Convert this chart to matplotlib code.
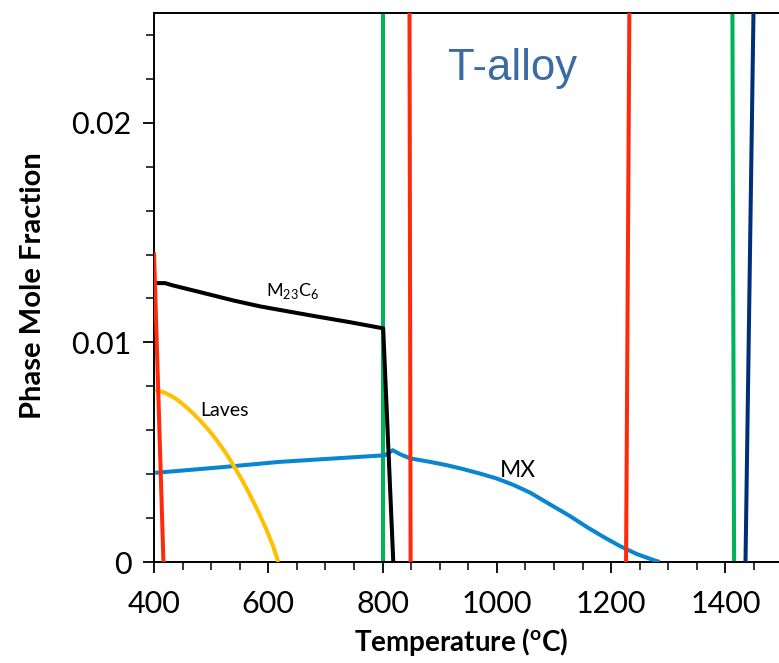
import matplotlib
matplotlib.use("Agg")
import matplotlib.pyplot as plt
from matplotlib.ticker import MultipleLocator, FixedLocator, FixedFormatter

plt.rcParams['font.family'] = ['Lato', 'DejaVu Sans']
plt.rcParams['mathtext.fontset'] = 'custom'
plt.rcParams['mathtext.rm'] = 'Lato'
plt.rcParams['mathtext.bf'] = 'Lato:bold'

# ---- data (temperature in degC, phase mole fraction) ----
m23c6_T = [401.7, 419.2, 433.8, 480.5, 538.8, 585.7, 626.2, 684.7, 743, 801, 818.7]
m23c6_f = [0.0127, 0.0127, 0.01259, 0.01229, 0.01191, 0.01164, 0.01145, 0.01118,
           0.01092, 0.01064, 0.0]

laves_T = [401.7, 416.3, 428, 439.7, 451.3, 466, 480.5, 495, 509.7, 524.2, 538.8,
           553.5, 568, 582.5, 597.2, 608.7, 617.5]
laves_f = [0.00782, 0.00774, 0.00759, 0.00741, 0.00717, 0.00683, 0.00645, 0.00603,
           0.00555, 0.00502, 0.00441, 0.00376, 0.00305, 0.00229, 0.00145, 0.00070, 0.0]

mx_T = [402, 520, 620, 804, 817.7, 830.5, 848, 883, 912, 941, 970, 1000, 1029, 1058,
        1099, 1128, 1157, 1186, 1215, 1245, 1274, 1285]
mx_f = [0.00406, 0.00432, 0.00456, 0.00486, 0.00509, 0.00491, 0.00472, 0.00456,
        0.00441, 0.00423, 0.00403, 0.00380, 0.00351, 0.00316, 0.00253, 0.00209,
        0.00160, 0.00115, 0.00073, 0.00036, 0.00009, 0.0]

red1_T = [400, 416.5]
red1_f = [0.0141, 0.0]
red2_T = [849, 847]
red2_f = [0.0, 0.026]
red3_T = [1226, 1232]
red3_f = [0.0, 0.026]
green1_T = [801, 801]
green1_f = [0.0, 0.026]
green2_T = [1415, 1412]
green2_f = [0.0, 0.026]
navy_T = [1435, 1449.5]
navy_f = [0.0, 0.026]

xticks = [400, 600, 800, 1000, 1200, 1400]
yticks = [0.0, 0.01, 0.02]
ytick_labels = ['0', '0.01', '0.02']

fig = plt.figure(figsize=(7.79, 6.63), dpi=100)
ax = fig.add_axes([154/779, 1 - 562/663, 1 - 154/779, (562 - 13)/663])

RED = '#FF2A0A'
GREEN = '#00B25A'
NAVY = '#002F7A'
BLUE = '#0A85CF'
GOLD = '#FFC000'
lw = 2.9
kw = dict(lw=lw, solid_joinstyle='round', solid_capstyle='butt')

ax.plot(green1_T, green1_f, color=GREEN, zorder=2, **kw)
ax.plot(green2_T, green2_f, color=GREEN, zorder=2, **kw)
ax.plot(mx_T, mx_f, color=BLUE, zorder=3, **kw)
ax.plot(laves_T, laves_f, color=GOLD, zorder=3, **kw)
ax.plot(m23c6_T, m23c6_f, color='black', zorder=4, **kw)
ax.plot(red1_T, red1_f, color=RED, zorder=5, **kw)
ax.plot(red2_T, red2_f, color=RED, zorder=5, **kw)
ax.plot(red3_T, red3_f, color=RED, zorder=5, **kw)
ax.plot(navy_T, navy_f, color=NAVY, zorder=5, **kw)

ax.set_xlim(400, 400 + (779 - 154) / 0.5715)
ax.set_ylim(0, 0.025)

ax.xaxis.set_major_locator(FixedLocator(xticks))
ax.xaxis.set_minor_locator(MultipleLocator(50))
ax.yaxis.set_major_locator(FixedLocator(yticks))
ax.yaxis.set_major_formatter(FixedFormatter(ytick_labels))
ax.yaxis.set_minor_locator(MultipleLocator(0.002))

ax.tick_params(axis='both', which='major', direction='out', length=8, width=1.3,
               labelsize=22, color='black')
ax.tick_params(axis='both', which='minor', direction='out', length=6, width=1.1)
ax.tick_params(axis='x', which='major', pad=12)
ax.tick_params(axis='y', which='major', pad=8)

for s in ['left', 'bottom', 'top']:
    ax.spines[s].set_linewidth(1.4)
ax.spines['right'].set_visible(False)

ax.set_xlabel(r'Temperature ($\mathbf{^{o}}$C)', fontsize=20, fontweight='bold')
ax.set_ylabel('Phase Mole Fraction', fontsize=21, fontweight='bold')
ax.xaxis.set_label_coords((461 - 154) / 625, -(626 - 562) / 549)
ax.yaxis.set_label_coords((46 - 154) / 625, (562 - 286) / 549)

ax.text(643, 0.01236, r'M$_{23}$C$_6$', fontsize=13, ha='center', va='center')
ax.text(524, 0.00691, 'Laves', fontsize=14, ha='center', va='center')
ax.text(1036, 0.00418, 'MX', fontsize=16.5, ha='center', va='center')
ax.text(1027, 0.02195, 'T-alloy', fontsize=31.5, ha='center', va='baseline',
        color='#3A6CA3', family=['Liberation Sans', 'DejaVu Sans'])

fig.savefig('out.png', dpi=100)
